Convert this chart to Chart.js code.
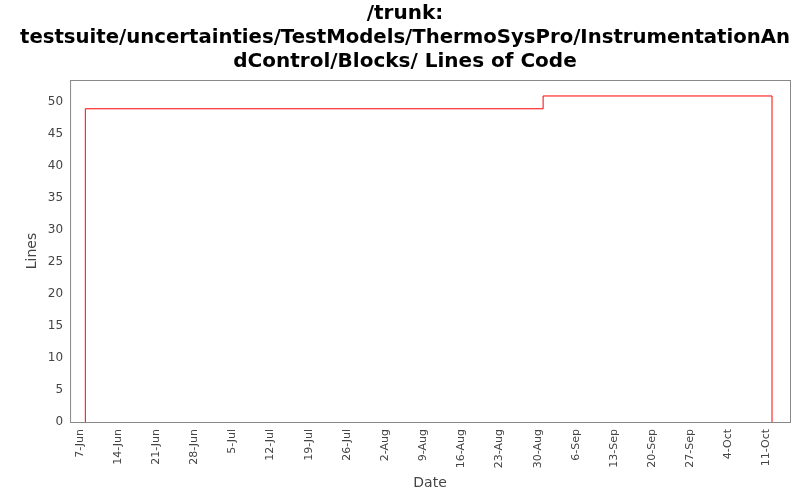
<!DOCTYPE html>
<html>
<head>
<meta charset="utf-8">
<script src="https://cdn.jsdelivr.net/npm/chart.js@4"></script>
<style>
  body { margin: 0; background: #fff; }
  #wrap { width: 800px; height: 500px; }
</style>
</head>
<body>
<div id="wrap"><canvas id="chart"></canvas></div>
<script>
// Lines of code over time (year assumed, labels show day-month only)
const dates = ['2008-06-08', '2008-06-08', '2008-08-31', '2008-10-12', '2008-10-12'];
const lines = [0, 49, 51, 51, 0];
const tickStart = '2008-06-07';
const months = ['Jan','Feb','Mar','Apr','May','Jun','Jul','Aug','Sep','Oct','Nov','Dec'];

const DAY = 86400000;
const t0 = Date.parse(tickStart);
const points = dates.map((d, i) => ({ x: Date.parse(d), y: lines[i] }));

// plot border
const borderPlugin = {
    id: 'plotBorder',
    afterDraw(chart) {
        const a = chart.chartArea, c = chart.ctx;
        c.save();
        c.strokeStyle = '#888';
        c.lineWidth = 1;
        c.strokeRect(a.left + 0.5, a.top + 0.5, a.right - a.left, a.bottom - a.top);
        c.restore();
    }
};

new Chart(document.getElementById('chart').getContext('2d'), {
    type: 'line',
    data: {
        datasets: [{
            data: points,
            borderColor: '#ff0000',
            borderWidth: 1,
            pointRadius: 0,
            stepped: 'before',
            fill: false
        }]
    },
    options: {
        responsive: true,
        maintainAspectRatio: false,
        animation: false,
        layout: { padding: { right: 10, left: 20, bottom: 4 } },
        plugins: {
            legend: { display: false },
            tooltip: { enabled: false },
            title: {
                display: true,
                text: ['/trunk:', 'testsuite/uncertainties/TestModels/ThermoSysPro/InstrumentationAn', 'dControl/Blocks/ Lines of Code'],
                font: { family: 'DejaVu Sans', size: 20, weight: 'bold' },
                color: '#000',
                padding: { top: 2, bottom: 6 }
            }
        },
        scales: {
            x: {
                type: 'linear',
                min: t0 - 1.8 * DAY,
                max: t0 + 130.3 * DAY,
                afterBuildTicks(axis) {
                    const ticks = [];
                    for (let v = t0; v <= axis.max; v += 7 * DAY) ticks.push({ value: v });
                    axis.ticks = ticks;
                },
                ticks: {
                    minRotation: 90,
                    maxRotation: 90,
                    autoSkip: false,
                    font: { family: 'DejaVu Sans', size: 11 },
                    color: '#444',
                    callback(v) {
                        const d = new Date(v);
                        return d.getUTCDate() + '-' + months[d.getUTCMonth()];
                    }
                },
                grid: { display: false, drawTicks: true, tickLength: 4, color: '#888' },
                border: { display: false },
                title: { display: true, text: 'Date', font: { family: 'DejaVu Sans', size: 14 }, color: '#444' }
            },
            y: {
                min: 0,
                max: 53.5,
                afterBuildTicks(axis) {
                    const ticks = [];
                    for (let v = 0; v <= 50; v += 5) ticks.push({ value: v });
                    axis.ticks = ticks;
                },
                ticks: {
                    font: { family: 'DejaVu Sans', size: 12 },
                    color: '#444'
                },
                grid: { display: false, drawTicks: true, tickLength: 4, color: '#888' },
                border: { display: false },
                title: { display: true, text: 'Lines', font: { family: 'DejaVu Sans', size: 14 }, color: '#444' }
            }
        }
    },
    plugins: [borderPlugin]
});
</script>
</body>
</html>
